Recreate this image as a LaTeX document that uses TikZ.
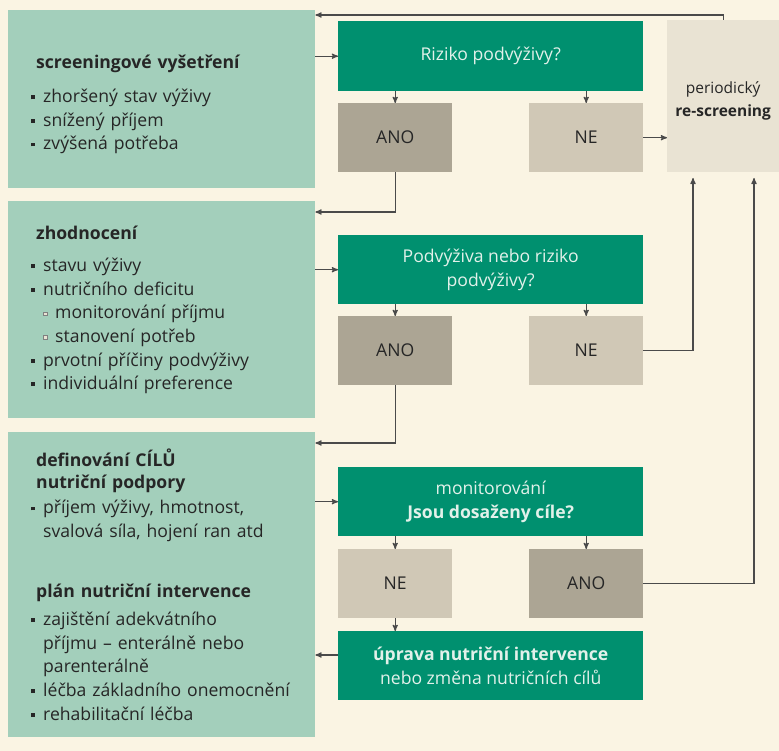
\documentclass[tikz,border=0pt]{standalone}
\usepackage{fontspec}
\setmainfont{Open Sans}
\usetikzlibrary{arrows}

\definecolor{cream}{HTML}{FAF4E3}
\definecolor{sidegreen}{HTML}{A3CFBB}
\definecolor{qgreen}{HTML}{00906F}
\definecolor{yesgray}{HTML}{ACA594}
\definecolor{nogray}{HTML}{D0C8B6}
\definecolor{pergray}{HTML}{E9E3D3}
\definecolor{linegray}{HTML}{4A4A4A}
\definecolor{txt}{HTML}{262626}
\definecolor{qtxt}{HTML}{E2F1EA}

\newcommand{\blt}{\makebox[12pt][l]{\raisebox{3.5pt}{\rule{3.8pt}{3.8pt}}}}
\newcommand{\sblt}{\hspace*{12pt}\makebox[12pt][l]{\raisebox{3.5pt}{\setlength\fboxsep{0pt}\setlength\fboxrule{0.6pt}\fcolorbox{gray}{pergray}{\rule{0pt}{3.2pt}\hspace{3.2pt}}}}}
\newcommand{\cnt}{\hspace*{12pt}}

\begin{document}
\begin{tikzpicture}[
                            x=1pt,
                            y=-1pt,
                            >=stealth',
                            font=\fontsize{17.6pt}{23.6pt}\selectfont
                        ]
                        \tikzstyle{side}=[fill=sidegreen,anchor=north west,text=txt,align=left,text width=261pt,inner xsep=23pt,inner ysep=0pt,minimum width=307pt]
                        \tikzstyle{quest}=[fill=qgreen,anchor=north west,text=qtxt,align=center,minimum width=305pt,minimum height=70pt,inner sep=0pt]
                        \tikzstyle{yesbox}=[fill=yesgray,anchor=north west,text=txt,minimum width=114pt,minimum height=69pt,inner sep=0pt]
                        \tikzstyle{nobox}=[fill=nogray,anchor=north west,text=txt,minimum width=114pt,minimum height=69pt,inner sep=0pt]
                        \tikzstyle{arr}=[->,draw=linegray,line width=1.2pt]

                        \fill[cream] (0,0) rectangle (779,751);
                        \useasboundingbox (0,0) rectangle (779,751);

                        % left column
                        \node[side,minimum height=178pt] (scr) at (8,10) {\rule{0pt}{24pt}\hspace*{5pt}\textbf{screeningové vyšetření}\\[11pt]
                            \blt zhoršený stav výživy\\
                            \blt snížený příjem\\
                            \blt zvýšená potřeba};
                        \node[side,minimum height=217pt] (ev) at (8,201) {\hspace*{5pt}\textbf{zhodnocení}\\[9pt]
                            \blt stavu výživy\\
                            \blt nutričního deficitu\\
                            \sblt monitorování příjmu\\
                            \sblt stanovení potřeb\\
                            \blt prvotní příčiny podvýživy\\
                            \blt individuální preference};
                        \node[side,minimum height=305pt] (pl) at (8,432) {\hspace*{5pt}\textbf{definování CÍLŮ}\\[-2pt]
                            \hspace*{5pt}\textbf{nutriční podpory}\\[2pt]
                            \blt příjem výživy, hmotnost,\\
                            \cnt svalová síla, hojení ran atd\\[36pt]
                            \hspace*{5pt}\textbf{plán nutriční intervence}\\[5pt]
                            \blt zajištění adekvátního\\
                            \cnt příjmu -- enterálně nebo\\
                            \cnt parenterálně\\
                            \blt léčba základního onemocnění\\
                            \blt rehabilitační léčba};

                        % decisions
                        \node[quest] (q1) at (338,21) {Riziko podvýživy?};
                        \node[yesbox] (a1) at (338,103) {ANO};
                        \node[nobox]  (n1) at (529,103) {NE};
                        \node[fill=pergray,anchor=north west,text=txt,align=center,minimum width=112pt,minimum height=152pt,inner sep=0pt,font=\fontsize{15.5pt}{23pt}\selectfont] (per) at (667,20) {\rule{0pt}{22pt}periodický\\\textbf{re-screening}};

                        \node[quest,minimum height=69pt] (q2) at (338,235) {Podvýživa nebo riziko\\podvýživy?};
                        \node[yesbox] (a2) at (338,316) {ANO};
                        \node[nobox]  (n2) at (529,316) {NE};

                        \node[quest,minimum height=69pt] (q3) at (338,467) {monitorování\\\textbf{Jsou dosaženy cíle?}};
                        \node[nobox]  (n3) at (338,549) {NE};
                        \node[yesbox] (a3) at (529,549) {ANO};
                        \node[quest,minimum height=69pt] (q4) at (338,631) {\textbf{úprava nutriční intervence}\\nebo změna nutričních cílů};

                        \coordinate (topret) at (0,15);
                        \coordinate (toev) at (0,212);
                        \coordinate (topl) at (0,443);
                        \coordinate (back) at (0,655);
                        \coordinate (up1) at (693,178);
                        \coordinate (up2) at (754,178);

                        \draw[arr] (per.north) |- (scr.east |- topret);
                        \draw[arr] (scr.east |- q1) -- (q1.west);
                        \draw[arr] (q1.south -| a1) -- (a1.north);
                        \draw[arr] (q1.south -| n1) -- (n1.north);
                        \draw[arr] (n1.east) -- (per.west |- n1);
                        \draw[arr] (a1.south) |- (ev.east |- toev);
                        \draw[arr] (ev.east |- q2) -- (q2.west);
                        \draw[arr] (q2.south -| a2) -- (a2.north);
                        \draw[arr] (q2.south -| n2) -- (n2.north);
                        \draw[arr] (n2.east) -| (up1);
                        \draw[arr] (a2.south) |- (pl.east |- topl);
                        \draw[arr] (pl.east |- q3) -- (q3.west);
                        \draw[arr] (q3.south -| n3) -- (n3.north);
                        \draw[arr] (q3.south -| a3) -- (a3.north);
                        \draw[arr] (n3.south) -- (q4.north -| n3);
                        \draw[arr] (q4.west |- back) -- (pl.east |- back);
                        \draw[arr] (a3.east) -| (up2);
                    \end{tikzpicture}
\end{document}
